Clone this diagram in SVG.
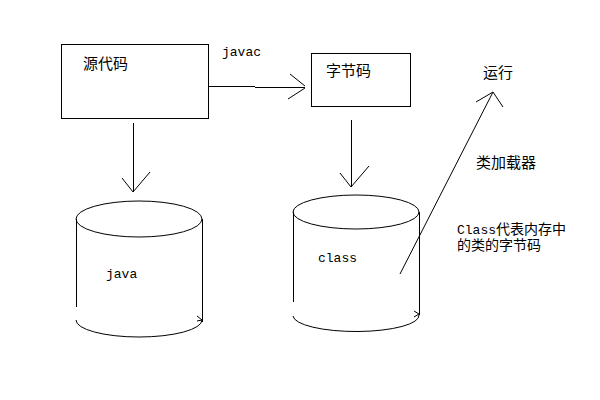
<svg xmlns="http://www.w3.org/2000/svg" width="600" height="400" viewBox="0 0 600 400">
<style>
.s{fill:none;stroke:#000;stroke-width:1}
.cjk{font-family:"Noto Sans CJK SC","Liberation Sans",sans-serif;font-size:15px;fill:#000}
.mono{font-family:"Liberation Mono","Noto Sans CJK SC",monospace;font-size:13px;fill:#000}
.sm{font-size:14px}
</style>
<rect width="600" height="400" fill="#fff"/>
<g id="source">
<rect class="s" x="61.5" y="44.5" width="147" height="74"/>
<text class="cjk" x="83" y="69">源代码</text>
</g>
<g id="bytecode">
<rect class="s" x="311.5" y="53.5" width="99" height="53"/>
<text class="cjk" x="326" y="76">字节码</text>
</g>
<g id="java-db">
<ellipse class="s" cx="139" cy="219" rx="63" ry="18"/>
<path class="s" d="M76.5 219 V307 M202.5 219 V322 M76 320 A63 17 0 0 0 202 320 M197 316 L202 320 L197 321"/>
<text class="mono" x="106" y="278">java</text>
</g>
<g id="class-db">
<ellipse class="s" cx="356" cy="212" rx="63" ry="17"/>
<path class="s" d="M293.5 212 V302 M419.5 212 V315 M293 316 A63 16 0 0 0 419 315 M414 311 L419 314 L414 317"/>
<text class="mono" x="318" y="262">class</text>
</g>
<g id="run">
<text class="cjk" x="483" y="78">运行</text>
</g>
<g id="labels">
<text class="mono" x="222" y="56">javac</text>
<text class="cjk" x="476" y="168">类加载器</text>
<text x="457" y="234"><tspan class="mono">Class</tspan><tspan class="cjk sm">代表内存中</tspan></text>
<text class="cjk sm" x="457" y="250">的类的字节码</text>
</g>
<g id="connectors">
<path class="s" d="M208 86.5 H255 M255 87.5 H305 M290 74 L305 86 M288 99 L305 88"/>
<path class="s" d="M133.5 123 V192 M122 178 L133 192 L150 172"/>
<path class="s" d="M351.5 120 V187 M340 173 L351 187 L369 166"/>
<path class="s" d="M400 274 L493 92 M476 102 L493 92 L503 107"/>
</g>
</svg>
